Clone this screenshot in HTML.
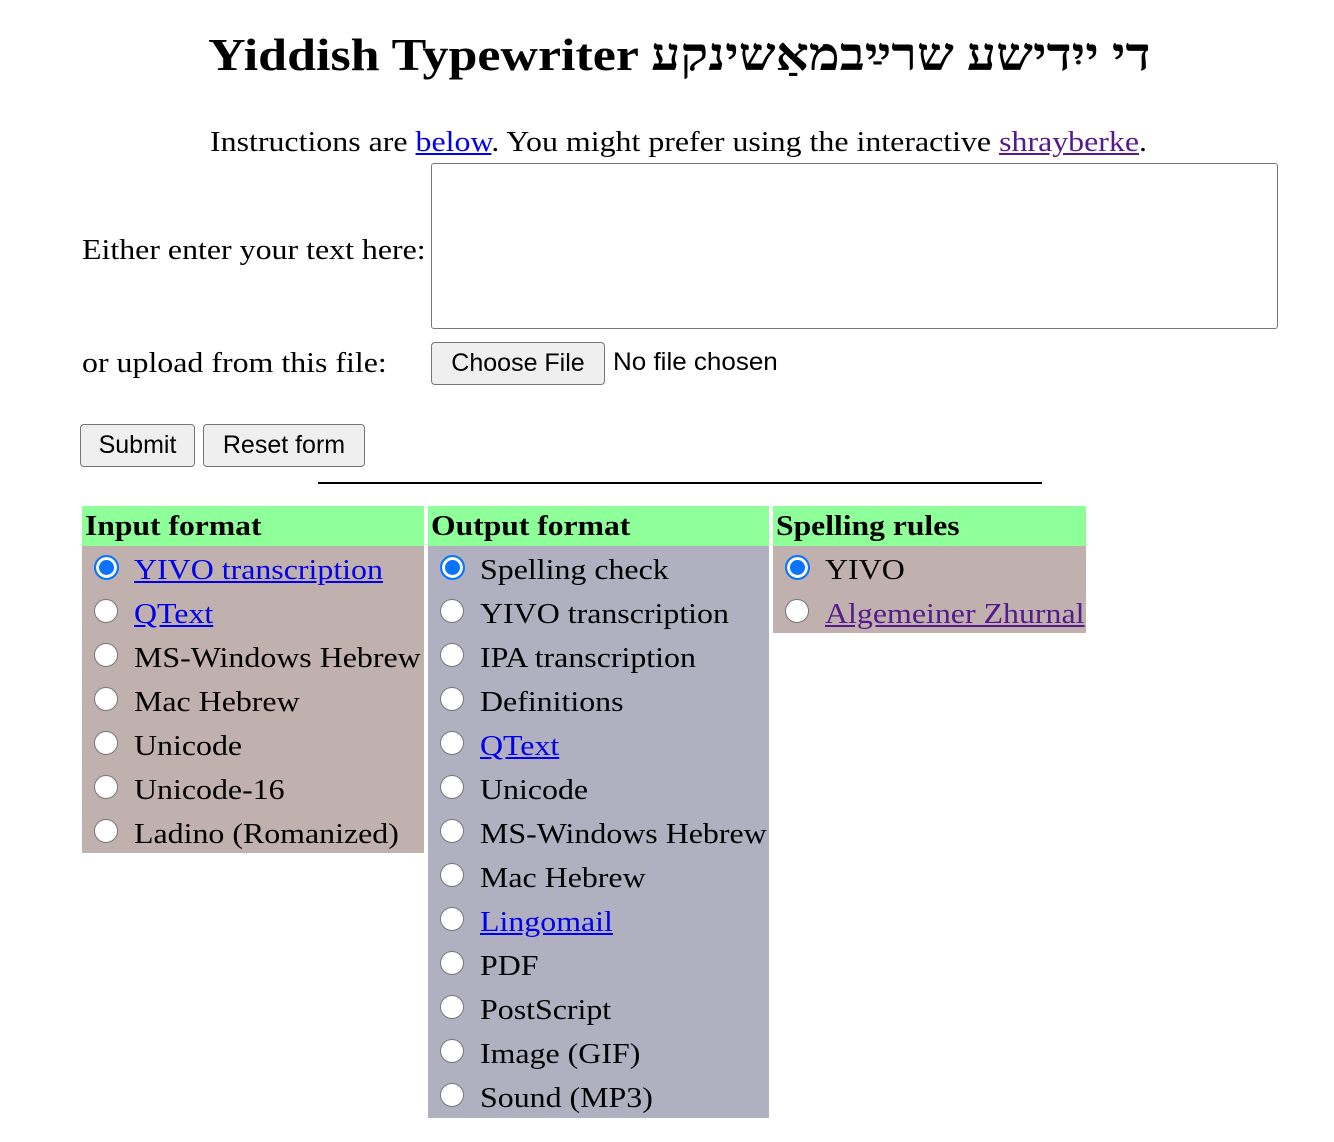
<!DOCTYPE html>
<html><head><meta charset="utf-8"><style>
body{margin:0;width:1334px;height:1142px;background:#fff;font-family:"Liberation Serif",serif;color:#000;position:relative;overflow:hidden}
.a{position:absolute;white-space:nowrap}
.s{transform:scaleX(1.1);transform-origin:0 0}
h1{position:absolute;margin:0;top:28px;left:14px;width:1334px;text-align:center;font-size:46px;font-weight:bold;font-family:"Liberation Serif","DejaVu Sans",serif;transform:scaleX(1.13);transform-origin:680px 0;white-space:nowrap}
a{color:#0000ee}
a.v{color:#551a8b}
.t{font-size:29px}
.box{position:absolute;border:1px solid #767676;border-radius:4px;background:#efefef;font-family:"Liberation Sans",sans-serif;font-size:25px;text-align:center;box-sizing:border-box}
.col{position:absolute;top:506px}
.hd{background:#8eff99;height:40px;font-weight:bold;font-size:29px;line-height:40px;padding-left:3px}
.hd b{display:inline-block;transform:scaleX(1.09);transform-origin:0 0}
.row{height:44px;position:relative;font-size:29px;line-height:44px}
.row .r{position:absolute;left:12px;top:9px;width:22px;height:22px;border:1.5px solid #767676;border-radius:50%;background:#fff}
.row .r.on{border:2px solid #0a74ff;background:#0a74ff;box-shadow:inset 0 0 0 3px #fff;width:21px;height:21px}
.row span{position:absolute;left:52px;top:2px;white-space:nowrap;transform:scaleX(1.1);transform-origin:0 0}
</style></head><body>
<h1>Yiddish Typewriter <span dir="rtl">די ייִדישע שרײַבמאַשינקע</span></h1>
<div class="a t s" style="left:210px;top:126px">Instructions are <a href="#">below</a>. You might prefer using the interactive <a class="v" href="#">shrayberke</a>.</div>
<div class="a t s" style="left:82px;top:234px">Either enter your text here:</div>
<div class="a" style="left:431px;top:163px;width:847px;height:166px;border:1px solid #767676;border-radius:3px;box-sizing:border-box"></div>
<div class="a t s" style="left:82px;top:347px">or upload from this file:</div>
<div class="box" style="left:431px;top:342px;width:174px;height:43px;line-height:40px">Choose File</div>
<div class="a" style="left:613px;top:348px;font-family:'Liberation Sans',sans-serif;font-size:25px;transform:scaleX(1.04);transform-origin:0 0">No file chosen</div>
<div class="box" style="left:80px;top:424px;width:115px;height:43px;line-height:40px">Submit</div>
<div class="box" style="left:203px;top:424px;width:162px;height:43px;line-height:40px">Reset form</div>
<div class="a" style="left:318px;top:482px;width:724px;height:2px;background:#000"></div>

<div class="col" style="left:82px;width:342px">
<div class="hd"><b>Input format</b></div>
<div style="background:#c0b0ae">
<div class="row"><div class="r on"></div><span><a href="#">YIVO transcription</a></span></div>
<div class="row"><div class="r"></div><span><a href="#">QText</a></span></div>
<div class="row"><div class="r"></div><span>MS-Windows Hebrew</span></div>
<div class="row"><div class="r"></div><span>Mac Hebrew</span></div>
<div class="row"><div class="r"></div><span>Unicode</span></div>
<div class="row"><div class="r"></div><span>Unicode-16</span></div>
<div class="row" style="height:43px"><div class="r"></div><span>Ladino (Romanized)</span></div>
</div></div>

<div class="col" style="left:428px;width:341px">
<div class="hd"><b>Output format</b></div>
<div style="background:#b0b0c0">
<div class="row"><div class="r on"></div><span>Spelling check</span></div>
<div class="row"><div class="r"></div><span>YIVO transcription</span></div>
<div class="row"><div class="r"></div><span>IPA transcription</span></div>
<div class="row"><div class="r"></div><span>Definitions</span></div>
<div class="row"><div class="r"></div><span><a href="#">QText</a></span></div>
<div class="row"><div class="r"></div><span>Unicode</span></div>
<div class="row"><div class="r"></div><span>MS-Windows Hebrew</span></div>
<div class="row"><div class="r"></div><span>Mac Hebrew</span></div>
<div class="row"><div class="r"></div><span><a href="#">Lingomail</a></span></div>
<div class="row"><div class="r"></div><span>PDF</span></div>
<div class="row"><div class="r"></div><span>PostScript</span></div>
<div class="row"><div class="r"></div><span>Image (GIF)</span></div>
<div class="row"><div class="r"></div><span>Sound (MP3)</span></div>
</div></div>

<div class="col" style="left:773px;width:313px">
<div class="hd"><b>Spelling rules</b></div>
<div style="background:#c0b0ae">
<div class="row"><div class="r on"></div><span>YIVO</span></div>
<div class="row" style="height:43px"><div class="r"></div><span><a class="v" href="#">Algemeiner Zhurnal</a></span></div>
</div></div>
</body></html>
